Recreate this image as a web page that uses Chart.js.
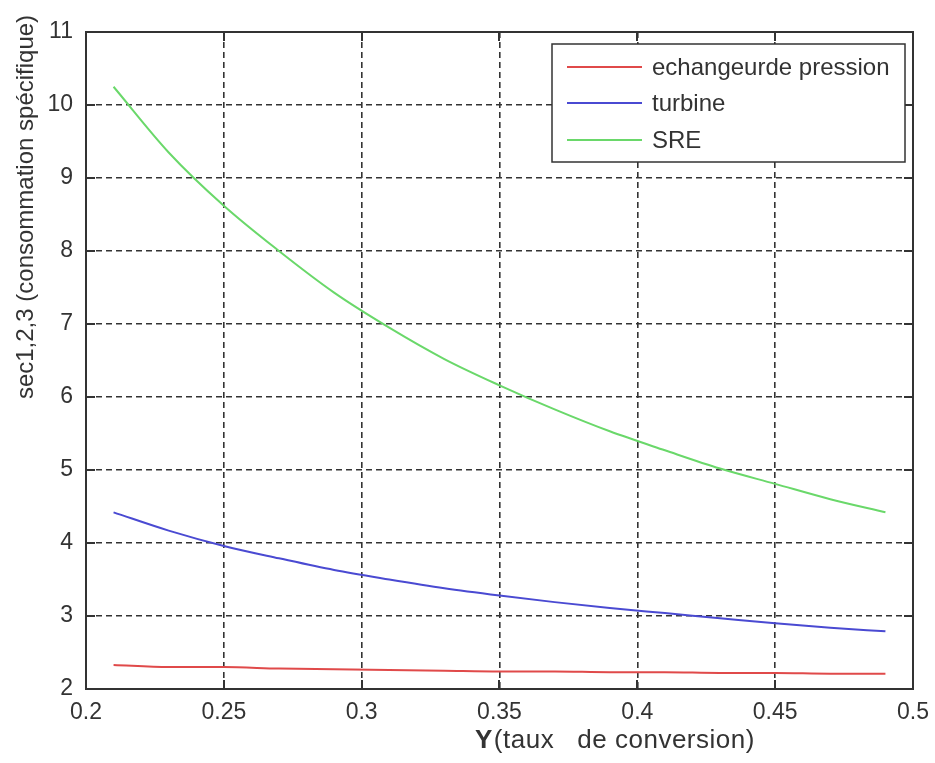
<!DOCTYPE html>
<html>
<head>
<meta charset="utf-8">
<script src="https://cdn.jsdelivr.net/npm/chart.js@4.4.1/dist/chart.umd.min.js"></script>
<style>
html,body{margin:0;padding:0;background:#fff;}
#wrap{width:935px;height:763px;position:relative;}
</style>
</head>
<body>
<div id="wrap"><canvas id="c" width="935" height="763"></canvas></div>
<script>
// ---- data ----
const xValues = [0.21, 0.23, 0.25, 0.27, 0.29, 0.31, 0.33, 0.35, 0.37, 0.39, 0.41, 0.43, 0.45, 0.47, 0.49];
const echangeur = [2.33, 2.30, 2.30, 2.28, 2.27, 2.26, 2.25, 2.24, 2.24, 2.23, 2.23, 2.22, 2.22, 2.21, 2.21];
const turbine   = [4.42, 4.17, 3.96, 3.79, 3.63, 3.50, 3.38, 3.28, 3.19, 3.11, 3.04, 2.97, 2.90, 2.84, 2.79];
const sre       = [10.25, 9.35, 8.62, 8.00, 7.43, 6.95, 6.52, 6.16, 5.83, 5.53, 5.27, 5.02, 4.81, 4.60, 4.42];
const seriesNames = ["echangeurde pression", "turbine", "SRE"];
const xTicks = [0.2, 0.25, 0.3, 0.35, 0.4, 0.45, 0.5];
const yTicks = [2, 3, 4, 5, 6, 7, 8, 9, 10, 11];
const xTitleBold = "Y";
const xTitleRest = "(taux   de conversion)";
const yTitle = "sec1,2,3 (consommation spécifique)";

const FONT = "'Liberation Sans', Arial, Helvetica, sans-serif";
const colors = ["#e04a4a", "#4a4ad2", "#6ad86a"];

function pts(ys){ return xValues.map((x,i)=>({x:x, y:ys[i]})); }

const frame = {
  id: 'frame',
  afterDraw(chart){
    const ctx = chart.ctx, a = chart.chartArea;
    const xs = chart.scales.x, ys = chart.scales.y;
    ctx.save();
    // box
    ctx.strokeStyle = '#333'; ctx.lineWidth = 2; ctx.setLineDash([]);
    ctx.strokeRect(a.left, a.top, a.right - a.left, a.bottom - a.top);
    // inward ticks
    const tl = 9;
    ctx.beginPath();
    xTicks.forEach(v=>{
      const p = Math.round(xs.getPixelForValue(v));
      ctx.moveTo(p, a.bottom); ctx.lineTo(p, a.bottom - tl);
      ctx.moveTo(p, a.top); ctx.lineTo(p, a.top + tl);
    });
    yTicks.forEach(v=>{
      const p = Math.round(ys.getPixelForValue(v));
      ctx.moveTo(a.left, p); ctx.lineTo(a.left + tl, p);
      ctx.moveTo(a.right, p); ctx.lineTo(a.right - tl, p);
    });
    ctx.stroke();

    // legend
    const lx = 552, ly = 44, lw = 353, lh = 118;
    ctx.fillStyle = '#fff';
    ctx.fillRect(lx, ly, lw, lh);
    ctx.strokeStyle = '#333'; ctx.lineWidth = 1.5;
    ctx.strokeRect(lx, ly, lw, lh);
    const rowsY = [67, 103, 140];
    ctx.font = "24px " + FONT;
    ctx.textBaseline = 'middle'; ctx.textAlign = 'left';
    chart.data.datasets.forEach((ds,i)=>{
      ctx.strokeStyle = ds.borderColor; ctx.lineWidth = 2;
      ctx.beginPath(); ctx.moveTo(567, rowsY[i]); ctx.lineTo(642, rowsY[i]); ctx.stroke();
      ctx.fillStyle = '#333';
      ctx.fillText(ds.label, 652, rowsY[i] + 1);
    });

    // x title
    ctx.fillStyle = '#333';
    ctx.textBaseline = 'alphabetic';
    try { ctx.letterSpacing = '0.5px'; } catch(e) {}
    ctx.font = "bold 26px " + FONT;
    const x0 = 475;
    ctx.fillText(xTitleBold, x0, 748);
    const w0 = ctx.measureText(xTitleBold).width;
    ctx.font = "26px " + FONT;
    ctx.fillText(xTitleRest, x0 + w0 + 1, 748);
    try { ctx.letterSpacing = '0px'; } catch(e) {}

    // y title
    ctx.save();
    ctx.translate(33, 207);
    ctx.rotate(-Math.PI/2);
    ctx.textAlign = 'center';
    ctx.font = "24px " + FONT;
    ctx.fillText(yTitle, 0, 0);
    ctx.restore();
    ctx.restore();
  }
};

new Chart(document.getElementById('c'), {
  type: 'line',
  data: {
    datasets: [
      {label: seriesNames[0], data: pts(echangeur), borderColor: colors[0]},
      {label: seriesNames[1], data: pts(turbine), borderColor: colors[1]},
      {label: seriesNames[2], data: pts(sre), borderColor: colors[2]}
    ]
  },
  options: {
    responsive: false,
    animation: false,
    devicePixelRatio: 1,
    layout: {padding: {left: 0, right: 22, top: 32, bottom: 0}},
    elements: {
      point: {radius: 0},
      line: {borderWidth: 2, tension: 0.4, cubicInterpolationMode: 'monotone', fill: false}
    },
    plugins: {legend: {display: false}, tooltip: {enabled: false}, title: {display: false}},
    scales: {
      x: {
        type: 'linear', min: 0.2, max: 0.5,
        afterBuildTicks(s){ s.ticks = xTicks.map(v=>({value:v})); },
        afterFit(s){ s.height = 74; s.paddingLeft = 0; s.paddingRight = 0; },
        ticks: {
          font: {size: 23, family: FONT}, color: '#333', padding: 10, maxRotation: 0,
          callback: v => String(Number(v.toFixed(2)))
        },
        grid: {color: '#333', lineWidth: 1.6, drawTicks: false},
        border: {display: false, dash: [6, 4]}
      },
      y: {
        type: 'linear', min: 2, max: 11,
        afterBuildTicks(s){ s.ticks = yTicks.map(v=>({value:v})); },
        afterFit(s){ s.width = 86; s.paddingTop = 0; s.paddingBottom = 0; },
        ticks: {font: {size: 23, family: FONT}, color: '#333', padding: 13},
        grid: {color: '#333', lineWidth: 1.6, drawTicks: false},
        border: {display: false, dash: [6, 4]}
      }
    }
  },
  plugins: [frame]
});
</script>
</body>
</html>
